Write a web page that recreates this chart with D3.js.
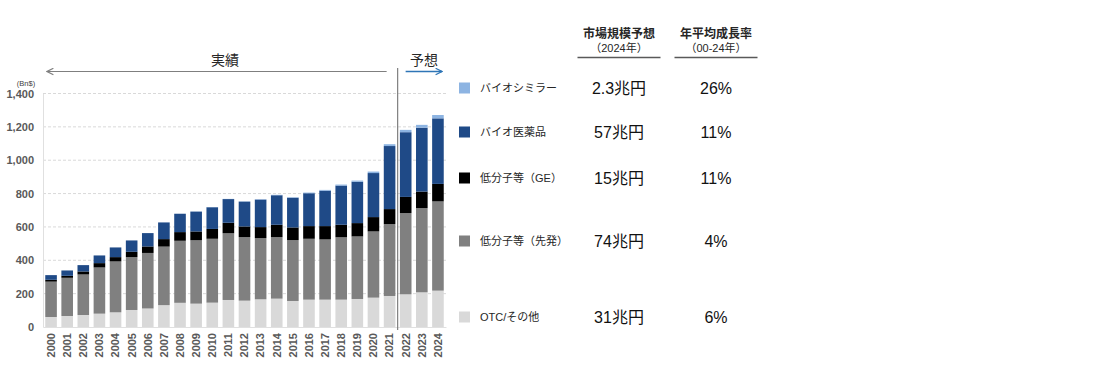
<!DOCTYPE html>
<html>
<head>
<meta charset="utf-8">
<script src="https://cdn.jsdelivr.net/npm/d3@7"></script>
<style>
  body { margin: 0; background: #fff; }
  svg text { font-family: "Liberation Sans", Arial, "Noto Sans CJK JP", sans-serif; }
</style>
</head>
<body>
<svg id="chart" width="1104" height="372"></svg>
<script>
// years on the x axis
const years = d3.range(2000, 2025).map(String);

// segment values (Bn$), stacked bottom -> top
const otc      = [60, 66, 72, 80, 88, 102, 111, 131, 145, 140, 146, 162, 158, 166, 170, 156, 164, 164, 164, 168, 176, 186, 196, 208, 218];
const senpatsu = [212, 229, 243, 277, 305, 317, 333, 351, 372, 380, 383, 400, 381, 367, 369, 365, 365, 361, 374, 375, 397, 431, 487, 505, 535];
const ge       = [11, 12, 18, 26, 26, 32, 39, 45, 52, 53, 59, 63, 64, 66, 74, 76, 76, 80, 75, 80, 86, 90, 97, 99, 105];
const bio      = [28, 32, 38, 46, 58, 68, 80, 100, 110, 119, 130, 142, 149, 165, 177, 178, 197, 212, 235, 248, 264, 378, 388, 383, 393];
const biosim   = [0, 0, 0, 0, 0, 0, 0.1, 0.3, 0.5, 0.7, 1, 1.2, 1.5, 2, 2.5, 3, 4, 5, 6, 7, 9, 11, 14, 17, 20];

const yTicks = [0, 200, 400, 600, 800, 1000, 1200, 1400];

// legend / table rows (top -> bottom)
const seriesNames = ["バイオシミラー", "バイオ医薬品", "低分子等（GE）", "低分子等（先発）", "OTC/その他"];
const marketSize  = ["2.3兆円", "57兆円", "15兆円", "74兆円", "31兆円"];
const growthRate  = ["26%", "11%", "11%", "4%", "6%"];
const colHeads    = [["市場規模予想", "（2024年）"], ["年平均成長率", "（00-24年）"]];

const keys = ["otc", "senpatsu", "ge", "bio", "biosim"];
const colors = { otc: "#d9d9d9", senpatsu: "#808080", ge: "#000000", bio: "#1f4a87", biosim: "#8db4e2" };

const rows = years.map((y, i) => ({ year: y, otc: otc[i], senpatsu: senpatsu[i], ge: ge[i], bio: bio[i], biosim: biosim[i] }));

const svg = d3.select("#chart");

const x = d3.scaleBand().domain(years).range([43, 446]).paddingInner(0.28).paddingOuter(0.14);
const y = d3.scaleLinear().domain([0, 1400]).range([327, 93.5]);

// grid
svg.append("g")
  .selectAll("line")
  .data(yTicks.filter(d => d > 0))
  .enter()
  .append("line")
  .attr("x1", 43).attr("x2", 446)
  .attr("y1", d => y(d)).attr("y2", d => y(d))
  .attr("stroke", "#d9d9d9")
  .attr("stroke-dasharray", "3,2");

// y axis
const yAxis = svg.append("g")
  .attr("transform", "translate(43,0)")
  .call(d3.axisLeft(y).tickValues(yTicks).tickSize(0).tickPadding(9).tickFormat(d3.format(",")));
yAxis.select(".domain").attr("stroke", "#e0e0e0");
yAxis.selectAll("text").attr("font-size", 11).attr("font-weight", "bold").attr("fill", "#595959");

svg.append("text")
  .attr("x", 26).attr("y", 86)
  .attr("text-anchor", "middle")
  .attr("font-size", 7.5)
  .attr("fill", "#404040")
  .text("(Bn$)");

// bars
const stack = d3.stack().keys(keys)(rows);
svg.append("g")
  .selectAll("g")
  .data(stack)
  .enter()
  .append("g")
  .attr("fill", d => colors[d.key])
  .selectAll("rect")
  .data(d => d)
  .enter()
  .append("rect")
  .attr("x", d => x(d.data.year))
  .attr("width", x.bandwidth())
  .attr("y", d => y(d[1]))
  .attr("height", d => y(d[0]) - y(d[1]));

// x axis labels
const xAxis = svg.append("g")
  .attr("transform", "translate(0,327)")
  .call(d3.axisBottom(x).tickSize(0));
xAxis.select(".domain").attr("stroke", "#e0e0e0");
xAxis.selectAll("text")
  .attr("font-size", 11).attr("font-weight", "bold").attr("fill", "#595959")
  .attr("transform", "rotate(-90)")
  .attr("text-anchor", "end")
  .attr("dy", "0.35em")
  .attr("x", -6).attr("y", 0);

// actual / forecast divider and arrows
const divX = (x("2021") + x.bandwidth() + x("2022")) / 2;
svg.append("line")
  .attr("x1", divX).attr("x2", divX).attr("y1", 68).attr("y2", 330)
  .attr("stroke", "#7f7f7f").attr("stroke-width", 1.2);

const defs = svg.append("defs");
function chevron(id, color) {
  defs.append("marker")
    .attr("id", id).attr("viewBox", "0 0 10 10").attr("refX", 9).attr("refY", 5)
    .attr("markerWidth", 8).attr("markerHeight", 8).attr("orient", "auto-start-reverse")
    .attr("markerUnits", "userSpaceOnUse")
    .append("path").attr("d", "M1,1 L9,5 L1,9")
    .attr("fill", "none").attr("stroke", color).attr("stroke-width", 1.6);
}
chevron("gArrow", "#7f7f7f");
chevron("bArrow", "#2e75b6");

svg.append("line")
  .attr("x1", 47).attr("x2", divX - 11).attr("y1", 71.5).attr("y2", 71.5)
  .attr("stroke", "#7f7f7f").attr("stroke-width", 1.2)
  .attr("marker-start", "url(#gArrow)");
svg.append("text")
  .attr("x", 225).attr("y", 65).attr("text-anchor", "middle")
  .attr("font-size", 14).attr("fill", "#262626").text("実績");

svg.append("line")
  .attr("x1", divX + 8).attr("x2", 442).attr("y1", 71.5).attr("y2", 71.5)
  .attr("stroke", "#2e75b6").attr("stroke-width", 1.4)
  .attr("marker-end", "url(#bArrow)");
svg.append("text")
  .attr("x", 424).attr("y", 65).attr("text-anchor", "middle")
  .attr("font-size", 14).attr("fill", "#262626").text("予想");

// legend + table
const rowY = [88, 132, 178, 241, 317];
const legendColors = [colors.biosim, colors.bio, colors.ge, colors.senpatsu, colors.otc];
const colX = [619, 716];

const leg = svg.append("g");
leg.selectAll("rect")
  .data(seriesNames)
  .enter()
  .append("rect")
  .attr("x", 459).attr("y", (d, i) => rowY[i] - 5.5)
  .attr("width", 11).attr("height", 11)
  .attr("fill", (d, i) => legendColors[i]);
leg.selectAll("text.name")
  .data(seriesNames)
  .enter()
  .append("text").attr("class", "name")
  .attr("x", 480).attr("y", (d, i) => rowY[i])
  .attr("dy", "0.38em")
  .attr("font-size", 11).attr("fill", "#262626")
  .text(d => d);

[marketSize, growthRate].forEach((col, c) => {
  leg.selectAll("text.col" + c)
    .data(col)
    .enter()
    .append("text").attr("class", "col" + c)
    .attr("x", colX[c]).attr("y", (d, i) => rowY[i])
    .attr("dy", "0.38em")
    .attr("text-anchor", "middle")
    .attr("font-size", 16).attr("fill", "#111")
    .text(d => d);
});

colHeads.forEach((h, c) => {
  svg.append("text")
    .attr("x", colX[c]).attr("y", 38).attr("text-anchor", "middle")
    .attr("font-size", 12).attr("font-weight", "bold").attr("fill", "#262626").text(h[0]);
  svg.append("text")
    .attr("x", colX[c]).attr("y", 52).attr("text-anchor", "middle")
    .attr("font-size", 11).attr("fill", "#262626").text(h[1]);
  svg.append("line")
    .attr("x1", colX[c] - 41.5).attr("x2", colX[c] + 41.5)
    .attr("y1", 57.5).attr("y2", 57.5)
    .attr("stroke", "#595959").attr("stroke-width", 1.5);
});
</script>
</body>
</html>
